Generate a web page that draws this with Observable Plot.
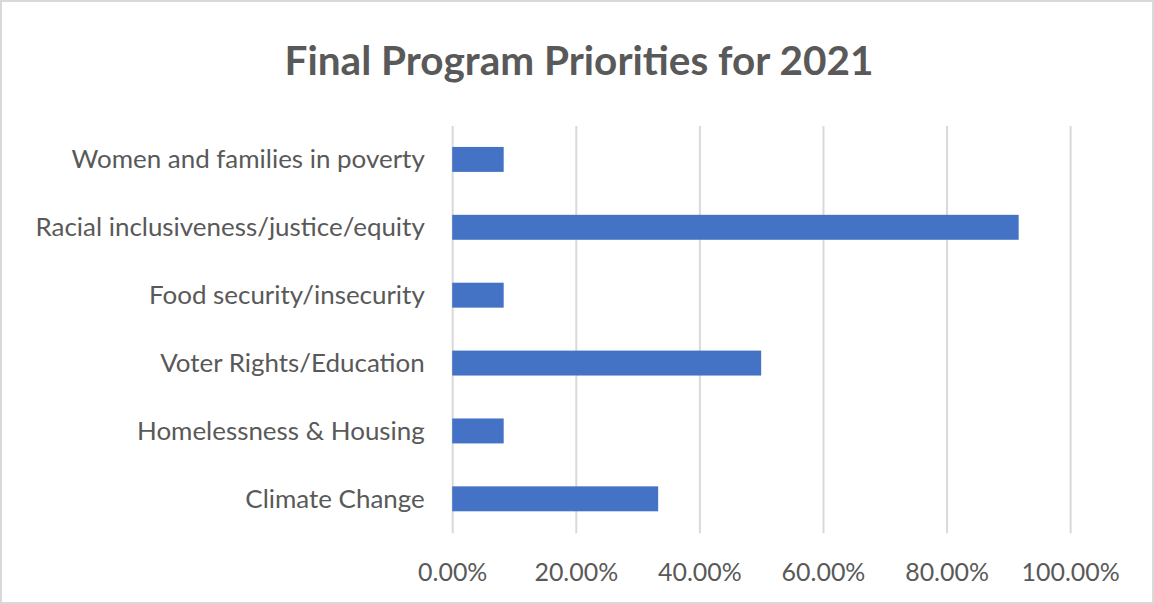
<!DOCTYPE html>
<html>
<head>
<meta charset="utf-8">
<script src="https://cdn.jsdelivr.net/npm/d3@7"></script>
<script src="https://cdn.jsdelivr.net/npm/@observablehq/plot@0.6"></script>
<style>
  html, body { margin: 0; padding: 0; background: #fff; }
  #frame { position: relative; width: 1150px; height: 600px; border: 2px solid #d9d9d9; box-sizing: content-box; overflow: hidden; background:#fff; }
  #title { position: absolute; left: 0; top: 0; width: 1154px; height: 110px; text-align: center; font-family: Lato, "Open Sans", sans-serif; font-weight: bold; font-size: 40.5px; color: #595959; line-height: 116px; }
  #chart { position: absolute; left: -2px; top: 108px; }
</style>
</head>
<body>
<div id="frame">
  <div id="title">Final Program Priorities for 2021</div>
  <div id="chart"></div>
</div>
<script>
const categories = [
  "Women and families in poverty",
  "Racial inclusiveness/justice/equity",
  "Food security/insecurity",
  "Voter Rights/Education",
  "Homelessness & Housing",
  "Climate Change"
];
const values = [0.0833, 0.9167, 0.0833, 0.50, 0.0833, 0.3333];
const xTicks = [0, 0.2, 0.4, 0.6, 0.8, 1.0];

const data = categories.map((c, i) => ({category: c, value: values[i]}));

const plot = Plot.plot({
  width: 1154,
  height: 494,
  marginTop: 16,
  marginBottom: 70,
  marginLeft: 453,
  marginRight: 82,
  style: { fontFamily: "Lato, 'Open Sans', sans-serif", fontSize: "25px", color: "#595959", background: "transparent" },
  x: { domain: [0, 1], ticks: xTicks, tickFormat: d3.format(".2%"), label: null, tickSize: 0, tickPadding: 30 },
  y: { domain: categories, paddingInner: 0.63, paddingOuter: 0.315, label: null, tickSize: 0, tickPadding: 28 },
  marks: [
    Plot.gridX(xTicks, { stroke: "#d9d9d9", strokeOpacity: 1, strokeWidth: 2 }),
    Plot.barX(data, { x: "value", y: "category", fill: "#4472C4" }),
    Plot.axisX({ ticks: xTicks, tickFormat: d3.format(".2%"), tickSize: 0, tickPadding: 30, label: null, fontSize: 25, fill: "#595959" }),
    Plot.axisY({ tickSize: 0, tickPadding: 28, label: null, fontSize: 26, fill: "#595959" })
  ]
});
document.getElementById("chart").appendChild(plot);
</script>
</body>
</html>
